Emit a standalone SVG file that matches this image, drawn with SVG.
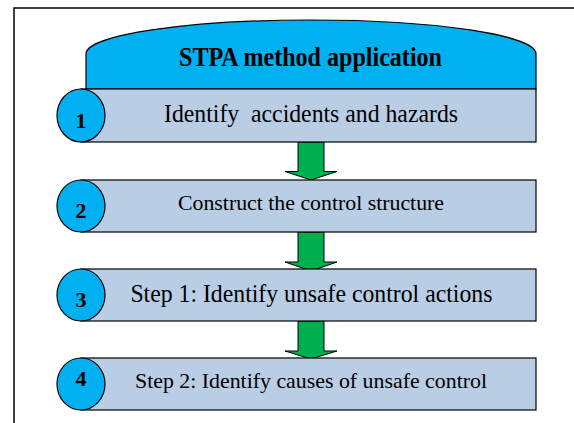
<svg xmlns="http://www.w3.org/2000/svg" width="574" height="423" viewBox="0 0 574 423">
<style>
.frame{fill:none;stroke:#000;stroke-width:1.5}
.hdr{fill:#00B0F0;stroke:#000;stroke-width:1.2}
.bar{fill:#B9CDE5;stroke:#000;stroke-width:1.2}
.num{fill:#00B0F0;stroke:#000;stroke-width:1.2}
.arr{fill:#00B050;stroke:#000;stroke-width:1}
.t{font-family:"Liberation Serif","Times New Roman",serif;fill:#000;text-anchor:middle}
.tb{font-family:"Liberation Serif","Times New Roman",serif;font-weight:bold;fill:#000;text-anchor:middle}
</style>
<rect width="574" height="423" fill="#fff"/>
<path class="frame" d="M14,423 V8 H576"/>
<g id="header">
<path class="hdr" d="M86,89 V54 A225,34 0 0 1 536,54 V89 Z"/>
<text class="tb" x="310.5" y="66" font-size="27" textLength="263" lengthAdjust="spacingAndGlyphs">STPA method application</text>
</g>
<g id="connectors">
<polygon class="arr" points="298,142 324,142 324,171.5 337,171.5 311,180 285,171.5 298,171.5"/>
<polygon class="arr" points="298,232 324,232 324,262 337,262 311,271 285,262 298,262"/>
<polygon class="arr" points="298,321 324,321 324,351 337,351 311,359 285,351 298,351"/>
</g>
<g id="step1">
<rect class="bar" x="81" y="89" width="455" height="53"/>
<ellipse class="num" cx="81" cy="115.5" rx="24" ry="26.5"/>
<text class="tb" x="81" y="128" font-size="22">1</text>
<text class="t" x="311" y="122" font-size="25" textLength="294" lengthAdjust="spacingAndGlyphs" xml:space="preserve">Identify  accidents and hazards</text>
</g>
<g id="step2">
<rect class="bar" x="81" y="180" width="455" height="52"/>
<ellipse class="num" cx="81" cy="206" rx="24" ry="26"/>
<text class="tb" x="81" y="218" font-size="22">2</text>
<text class="t" x="311" y="210" font-size="22" textLength="266" lengthAdjust="spacingAndGlyphs">Construct the control structure</text>
</g>
<g id="step3">
<rect class="bar" x="81" y="269" width="455" height="52"/>
<ellipse class="num" cx="81" cy="295" rx="24" ry="26"/>
<text class="tb" x="81" y="307" font-size="22">3</text>
<text class="t" x="311.4" y="302" font-size="25" textLength="362" lengthAdjust="spacingAndGlyphs">Step 1: Identify unsafe control actions</text>
</g>
<g id="step4">
<rect class="bar" x="81" y="358" width="455" height="52"/>
<ellipse class="num" cx="81" cy="384" rx="24" ry="26"/>
<text class="tb" x="81" y="386" font-size="22">4</text>
<text class="t" x="311" y="388" font-size="22" textLength="352" lengthAdjust="spacingAndGlyphs">Step 2: Identify causes of unsafe control</text>
</g>
</svg>
